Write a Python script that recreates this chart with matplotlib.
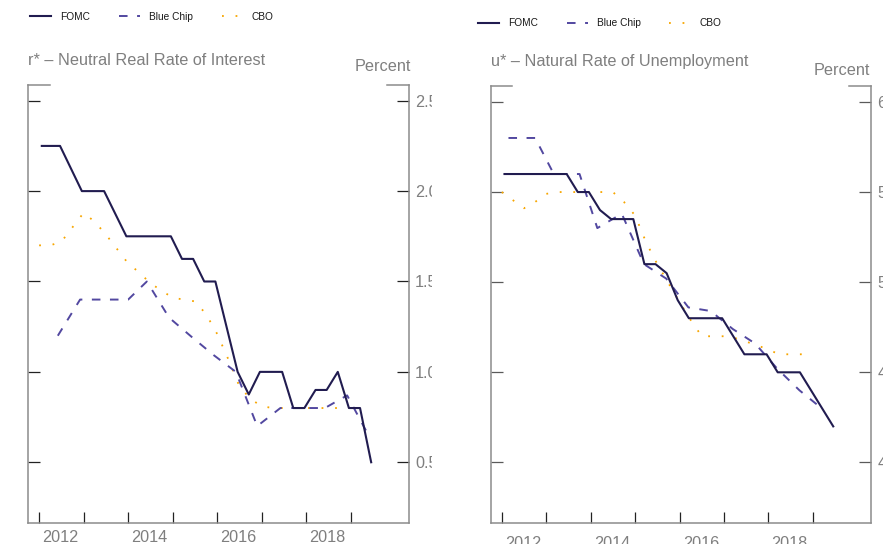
"""Neutral real rate (r*) and natural rate of unemployment (u*) estimates."""
import matplotlib
matplotlib.use('Agg')
import matplotlib.pyplot as plt
from matplotlib.transforms import Bbox, TransformedBbox

plt.rcParams['font.family'] = ['Liberation Sans', 'DejaVu Sans']

# ---- r* panel data (percent) ----
fomc_r_t = [2012.06, 2012.47, 2012.96, 2013.46, 2013.96, 2014.96, 2015.21, 2015.46,
            2015.71, 2015.96, 2016.46, 2016.71, 2016.96, 2017.46, 2017.71, 2017.96,
            2018.21, 2018.46, 2018.71, 2018.96, 2019.21, 2019.46]
fomc_r = [2.25, 2.25, 2.0, 2.0, 1.75, 1.75, 1.625, 1.625, 1.5, 1.5, 1.0, 0.875,
          1.0, 1.0, 0.8, 0.8, 0.9, 0.9, 1.0, 0.8, 0.8, 0.5]
bc_r_t = [2012.42, 2012.92, 2013.42, 2014.0, 2014.42, 2014.92, 2015.42, 2015.92,
          2016.42, 2016.9, 2017.42, 2017.92, 2018.42, 2018.92, 2019.42]
bc_r = [1.2, 1.4, 1.4, 1.4, 1.5, 1.30, 1.195, 1.093, 1.0, 0.70, 0.80, 0.80, 0.80,
        0.87, 0.64]
cbo_t = [2012 + 0.25 * k for k in range(29)]
cbo_r = [1.70, 1.70, 1.72, 1.80, 1.88, 1.83, 1.76, 1.68, 1.60, 1.55, 1.49, 1.45,
         1.41, 1.40, 1.39, 1.32, 1.21, 1.07, 0.92, 0.85, 0.81, 0.80, 0.80, 0.80,
         0.80, 0.80, 0.80, 0.80, 0.80]

# ---- u* panel data (percent) ----
fomc_u_t = [2012.06, 2013.46, 2013.71, 2013.96, 2014.21, 2014.46, 2014.96, 2015.21,
            2015.46, 2015.71, 2015.96, 2016.21, 2016.96, 2017.46, 2017.96, 2018.21,
            2018.71, 2019.46]
fomc_u = [5.6, 5.6, 5.5, 5.5, 5.4, 5.35, 5.35, 5.1, 5.1, 5.05, 4.9, 4.8, 4.8, 4.6,
          4.6, 4.5, 4.5, 4.2]
bc_u_t = [2012.15, 2012.75, 2013.17, 2013.75, 2014.15, 2014.7, 2015.2, 2015.7,
          2016.2, 2016.7, 2017.2, 2017.7, 2018.2, 2018.7, 2019.15]
bc_u = [5.8, 5.8, 5.6, 5.6, 5.3, 5.38, 5.1, 5.02, 4.86, 4.84, 4.74, 4.66, 4.52,
        4.40, 4.31]
cbo_u = [5.50, 5.455, 5.41, 5.445, 5.49, 5.50, 5.50, 5.50, 5.50, 5.50, 5.50, 5.445,
         5.37, 5.22, 5.10, 4.995, 4.89, 4.79, 4.70, 4.70, 4.70, 4.69, 4.67, 4.65,
         4.625, 4.60, 4.60, 4.60, 4.60]

r_ticks = [0.5, 1.0, 1.5, 2.0, 2.5]
r_labels = ['0.5', '1.0', '1.5', '2.0', '2.5']
u_ticks = [4.0, 4.5, 5.0, 5.5, 6.0]
u_labels = ['4.0', '4.5', '5.0', '5.5', '6.0']
year_ticks = list(range(2012, 2020))
year_labels = ['2012', '2014', '2016', '2018']

FOMC_C = '#211c50'
BC_C = '#5248a0'
CBO_C = '#f7a600'
GRAY = '#7f7f7f'
SPINE = '#8c8c8c'
FS = 11.7

W, H = 883, 544
fig = plt.figure(figsize=(W / 100, H / 100), dpi=100)
ax1 = fig.add_axes([28 / W, 1 - 523 / H, (409 - 28) / W, (523 - 85) / H])
ax2 = fig.add_axes([490.7 / W, 1 - 523 / H, (871 - 490.7) / W, (523 - 85.7) / H])


def draw(ax, fomc_t, fomc, bc_t, bc, cbo):
    c, = ax.plot(cbo_t, cbo, color=CBO_C, lw=1.3, linestyle=(0, (1, 6.5)),
                 dash_capstyle='butt', label='CBO')
    b, = ax.plot(bc_t, bc, color=BC_C, lw=1.4, linestyle=(0, (4.4, 4.9)),
                 dash_capstyle='butt', label='Blue Chip')
    f, = ax.plot(fomc_t, fomc, color=FOMC_C, lw=1.5, label='FOMC')
    return [f, b, c]


def style(ax, ylim, ticks, labels, ytick_c, xpad):
    ax.set_xlim(2011.75, 2020.31)
    ax.set_ylim(*ylim)
    ax.spines['top'].set_visible(False)
    for s in ['left', 'right', 'bottom']:
        ax.spines[s].set_color(SPINE)
        ax.spines[s].set_linewidth(1.1)
    for x0, x1 in [(0, 0.057), (0.943, 1)]:
        ax.plot([x0, x1], [1, 1], transform=ax.transAxes, color=SPINE, lw=1.1,
                clip_on=False, solid_capstyle='projecting')
    ax.set_yticks(ticks)
    ax.set_yticklabels(labels)
    ax.tick_params(axis='y', direction='in', length=8.5, width=0.9, color=ytick_c,
                   left=True, right=True, labelleft=False, labelright=True,
                   labelsize=FS, labelcolor=GRAY, pad=4.5)
    ax.set_xticks(year_ticks)
    ax.set_xticks([int(y) + 0.48 for y in year_labels], minor=True)
    ax.set_xticklabels(year_labels, minor=True)
    ax.tick_params(axis='x', which='major', direction='in', length=8, width=0.9,
                   color='#222222', labelbottom=False)
    ax.tick_params(axis='x', which='minor', length=0, labelsize=FS,
                   labelcolor=GRAY, pad=xpad)


h1 = draw(ax1, fomc_r_t, fomc_r, bc_r_t, bc_r, cbo_r)
h2 = draw(ax2, fomc_u_t, fomc_u, bc_u_t, bc_u, cbo_u)
style(ax1, (0.164, 2.587), r_ticks, r_labels, '#222222', 5)
style(ax2, (3.664, 6.09), u_ticks, u_labels, '#5a5a5a', 9)

for ax, h, (lx, ly) in [(ax1, h1, (30, 16.7)), (ax2, h2, (477.7, 23.3))]:
    ax.legend(handles=h, loc='center left', bbox_to_anchor=(lx / W, 1 - ly / H),
              bbox_transform=fig.transFigure, ncol=3, frameon=False, fontsize=7.3,
              handlelength=2.07, handletextpad=0.9, columnspacing=2.85,
              borderpad=0, borderaxespad=0, labelcolor='#1a1a1a')

ax1.annotate('r* \u2013 Neutral Real Rate of Interest', xy=(0, 1), xycoords='axes fraction',
             xytext=(0, 17.5), textcoords='offset points', ha='left', va='center',
             fontsize=FS, color=GRAY)
ax1.annotate('Percent', xy=(1, 1), xycoords='axes fraction', xytext=(1.2, 13.2),
             textcoords='offset points', ha='right', va='center', fontsize=FS, color=GRAY)
ax2.annotate('u* \u2013 Natural Rate of Unemployment', xy=(0, 1), xycoords='axes fraction',
             xytext=(0, 17.3), textcoords='offset points', ha='left', va='center',
             fontsize=FS, color=GRAY)
ax2.annotate('Percent', xy=(1, 1), xycoords='axes fraction', xytext=(-0.7, 11.3),
             textcoords='offset points', ha='right', va='center', fontsize=FS, color=GRAY)

# the left panel's right-hand labels are cut off where the panel ends
fig.canvas.draw()
clip = TransformedBbox(Bbox([[0, 0], [431.5 / W, 1]]), fig.transFigure)
for tick in ax1.yaxis.get_major_ticks():
    tick.label2.set_clip_box(clip)
    tick.label2.set_clip_on(True)

fig.savefig('out.png', dpi=100)
